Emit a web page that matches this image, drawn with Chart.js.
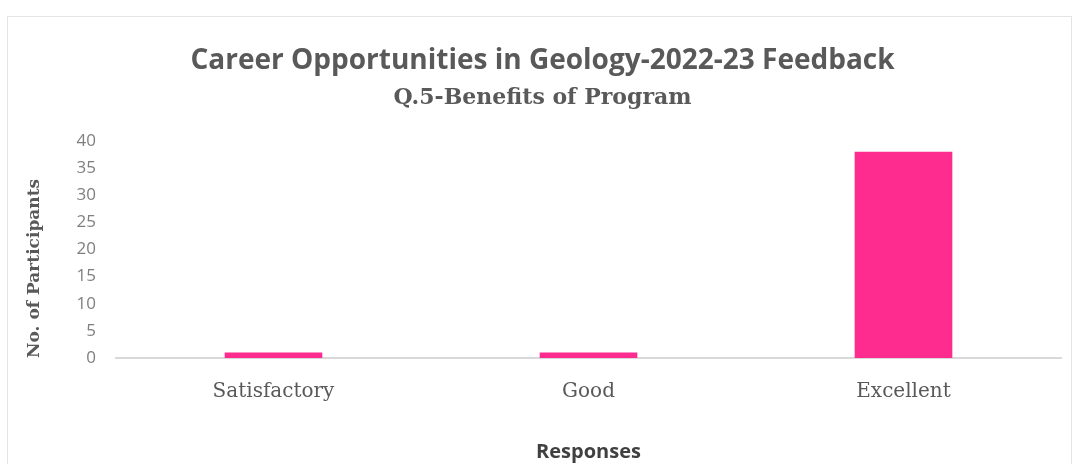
<!DOCTYPE html>
<html>
<head>
<meta charset="utf-8">
<title>Career Opportunities in Geology-2022-23 Feedback</title>
<script src="https://cdn.jsdelivr.net/npm/chart.js@4.4.1/dist/chart.umd.min.js"></script>
<style>
  html, body { margin: 0; padding: 0; background: #ffffff; }
  #wrap { position: relative; width: 1081px; height: 464px; overflow: hidden; }
  #frame {
    position: absolute; left: 7px; top: 16px; width: 1065px; height: 460px;
    border: 1px solid #e4e4e4; box-sizing: border-box; pointer-events: none;
  }
  canvas { position: absolute; left: 0; top: 0; }
</style>
</head>
<body>
<div id="wrap">
  <div id="frame"></div>
  <canvas id="chart" width="1081" height="464"></canvas>
</div>
<script>
// Q.5 responses
const categories = ['Satisfactory', 'Good', 'Excellent'];
const participants = [1, 1, 38];
const yTicks = [0, 5, 10, 15, 20, 25, 30, 35, 40];

const pink = '#ff2c90';
const textGrey = '#595959';

new Chart(document.getElementById('chart'), {
  type: 'bar',
  data: {
    labels: categories,
    datasets: [{
      data: participants,
      backgroundColor: pink,
      borderWidth: 0,
      categoryPercentage: 1,
      barPercentage: 0.31
    }]
  },
  options: {
    responsive: false,
    animation: false,
    layout: { padding: { left: 24, right: 20, top: 0, bottom: 0 } },
    plugins: {
      legend: { display: false },
      tooltip: { enabled: false },
      title: {
        display: true,
        text: 'Career Opportunities in Geology-2022-23 Feedback',
        color: textGrey,
        font: { family: 'Open Sans', size: 28, weight: 'bold' },
        padding: { top: 44, bottom: 4 }
      },
      subtitle: {
        display: true,
        text: 'Q.5-Benefits of Program',
        color: textGrey,
        font: { family: 'DejaVu Serif', size: 22, weight: 'bold' },
        padding: { top: 3, bottom: 30 }
      }
    },
    scales: {
      x: {
        afterFit: (scale) => { scale.height = 106; },
        grid: { display: false },
        border: { display: true, color: '#d9d9d9', width: 2 },
        ticks: {
          color: textGrey,
          padding: 14,
          font: { family: 'DejaVu Serif', size: 20 }
        },
        title: {
          display: true,
          text: 'Responses',
          color: '#404040',
          font: { family: 'Open Sans', size: 20, weight: 'bold' },
          padding: { top: 0, bottom: 0 }
        }
      },
      y: {
        min: 0,
        max: 40,
        afterBuildTicks: (scale) => { scale.ticks = yTicks.map(v => ({ value: v })); },
        afterFit: (scale) => { scale.width = 92; },
        grid: { display: false },
        border: { display: false },
        ticks: {
          color: '#7f7f7f',
          padding: 12,
          font: { family: 'Open Sans', size: 17 }
        },
        title: {
          display: true,
          text: 'No. of Participants',
          align: 'start',
          color: textGrey,
          font: { family: 'DejaVu Serif', size: 17, weight: 'bold' },
          padding: 0
        }
      }
    }
  }
});
</script>
</body>
</html>
